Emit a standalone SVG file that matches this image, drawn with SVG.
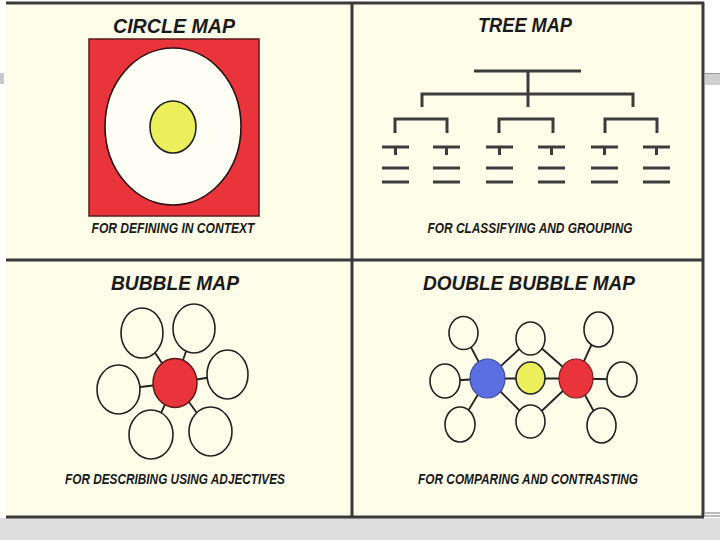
<svg xmlns="http://www.w3.org/2000/svg" width="720" height="540" viewBox="0 0 720 540">
<style>
.title{font-family:"Liberation Sans",Arial,sans-serif;font-weight:bold;font-style:italic;font-size:21px;fill:#1a1a1a}
.cap{font-family:"Liberation Sans",Arial,sans-serif;font-weight:bold;font-style:italic;font-size:14px;fill:#1a1a1a}
.frame{stroke:#3a3a3a;stroke-width:3;fill:none}
.tree{stroke:#3c3c3c;stroke-width:3;fill:none}
.bub{fill:#fdfde9;stroke:#222;stroke-width:1.6}
.link{stroke:#222;stroke-width:1.8;fill:none}
</style>
<rect x="0" y="0" width="720" height="540" fill="#ffffff"/>
<rect x="0" y="518" width="720" height="22" fill="#dedede"/>
<rect x="0" y="73" width="4" height="11" fill="#c8c8c8"/>
<rect x="705" y="73" width="15" height="12" fill="#cfcfcf"/>
<line x1="705" y1="73.5" x2="720" y2="73.5" stroke="#999" stroke-width="1"/>
<line x1="705" y1="513" x2="720" y2="513" stroke="#777" stroke-width="1"/>
<line x1="705" y1="516" x2="720" y2="516" stroke="#777" stroke-width="1"/>
<rect x="6" y="2" width="698" height="516" fill="#fdfde9"/>
<g id="frame">
<line class="frame" x1="6" y1="3" x2="704" y2="3" stroke="#555"/>
<line class="frame" x1="703" y1="2" x2="703" y2="517"/>
<line class="frame" x1="6" y1="517" x2="704" y2="517"/>
<line class="frame" x1="6" y1="260" x2="704" y2="260"/>
<line class="frame" x1="352" y1="2" x2="352" y2="517"/>
</g>

<g id="circle-map">
<text class="title" x="174" y="33" text-anchor="middle" textLength="122" lengthAdjust="spacingAndGlyphs">CIRCLE MAP</text>
<rect x="89" y="39" width="170" height="177" fill="#e8343a" stroke="#5a1a1a" stroke-width="1.5"/>
<ellipse cx="173" cy="126.5" rx="68" ry="78.5" fill="#fefef4" stroke="#2a1010" stroke-width="1.6"/>
<ellipse cx="173" cy="127" rx="23" ry="26" fill="#ecef5c" stroke="#222" stroke-width="1.6"/>
<text class="cap" x="173" y="233" text-anchor="middle" textLength="163" lengthAdjust="spacingAndGlyphs">FOR DEFINING IN CONTEXT</text>
</g>

<g id="tree-map">
<text class="title" x="525" y="32" text-anchor="middle" textLength="94" lengthAdjust="spacingAndGlyphs">TREE MAP</text>
<path class="tree" d="M474 71H581M528 71V107M422 107V94H633V107"/>
<path class="tree" d="M395 133V119H447V133M499 133V119H553V133M605 133V119H657V133"/>
<g id="tree-leaves" class="tree">
<path d="M382 147H409M395.5 147V155M382 168H409M382 182H409"/>
<path d="M433 147H460M446.5 147V155M433 168H460M433 182H460"/>
<path d="M486 147H513M499.5 147V155M486 168H513M486 182H513"/>
<path d="M538 147H565M551.5 147V155M538 168H565M538 182H565"/>
<path d="M591 147H618M604.5 147V155M591 168H618M591 182H618"/>
<path d="M643 147H670M656.5 147V155M643 168H670M643 182H670"/>
</g>
<text class="cap" x="530" y="233" text-anchor="middle" textLength="205" lengthAdjust="spacingAndGlyphs">FOR CLASSIFYING AND GROUPING</text>
</g>

<g id="bubble-map">
<text class="title" x="175" y="290" text-anchor="middle" textLength="128" lengthAdjust="spacingAndGlyphs">BUBBLE MAP</text>
<g id="bubble-connectors">
<line class="link" x1="175" y1="383" x2="142" y2="333"/>
<line class="link" x1="175" y1="383" x2="194" y2="328.5"/>
<line class="link" x1="175" y1="383" x2="227.5" y2="374.5"/>
<line class="link" x1="175" y1="383" x2="118.5" y2="389.5"/>
<line class="link" x1="175" y1="383" x2="151" y2="434.5"/>
<line class="link" x1="175" y1="383" x2="210.5" y2="431.5"/>
</g>
<g id="b1"><ellipse class="bub" cx="142" cy="333" rx="21" ry="25"/></g>
<g id="b2"><ellipse class="bub" cx="194" cy="328.5" rx="21" ry="24.5"/></g>
<g id="b3"><ellipse class="bub" cx="227.5" cy="374.5" rx="20.5" ry="24.5"/></g>
<g id="b4"><ellipse class="bub" cx="118.5" cy="389.5" rx="21.5" ry="24.5"/></g>
<g id="b5"><ellipse class="bub" cx="151" cy="434.5" rx="22" ry="24.5"/></g>
<g id="b6"><ellipse class="bub" cx="210.5" cy="431.5" rx="21.5" ry="24.5"/></g>
<g id="b-center"><ellipse cx="175" cy="383" rx="22" ry="24.5" fill="#e8343a" stroke="#5a1a1a" stroke-width="1.5"/></g>
<text class="cap" x="175" y="484" text-anchor="middle" textLength="220" lengthAdjust="spacingAndGlyphs">FOR DESCRIBING USING ADJECTIVES</text>
</g>

<g id="double-bubble-map">
<text class="title" x="529" y="290" text-anchor="middle" textLength="212" lengthAdjust="spacingAndGlyphs">DOUBLE BUBBLE MAP</text>
<g id="double-connectors">
<line class="link" x1="487.5" y1="378.5" x2="445" y2="381"/>
<line class="link" x1="487.5" y1="378.5" x2="463.5" y2="333"/>
<line class="link" x1="487.5" y1="378.5" x2="460" y2="424.5"/>
<line class="link" x1="487.5" y1="378.5" x2="530.5" y2="338.5"/>
<line class="link" x1="487.5" y1="378.5" x2="530.5" y2="421.5"/>
<line class="link" x1="487.5" y1="378.5" x2="576" y2="378.5"/>
<line class="link" x1="576" y1="378.5" x2="530.5" y2="338.5"/>
<line class="link" x1="576" y1="378.5" x2="530.5" y2="421.5"/>
<line class="link" x1="576" y1="378.5" x2="598.5" y2="329.5"/>
<line class="link" x1="576" y1="378.5" x2="622" y2="379.5"/>
<line class="link" x1="576" y1="378.5" x2="601.5" y2="425.5"/>
</g>
<g id="d-tl"><ellipse class="bub" cx="463.5" cy="333" rx="14.5" ry="16.5"/></g>
<g id="d-l"><ellipse class="bub" cx="445" cy="381" rx="15" ry="17"/></g>
<g id="d-bl"><ellipse class="bub" cx="460" cy="424.5" rx="15" ry="17.5"/></g>
<g id="d-tm"><ellipse class="bub" cx="530.5" cy="338.5" rx="14.5" ry="16.5"/></g>
<g id="d-bm"><ellipse class="bub" cx="530.5" cy="421.5" rx="14.5" ry="16.5"/></g>
<g id="d-tr"><ellipse class="bub" cx="598.5" cy="329.5" rx="14.5" ry="17.5"/></g>
<g id="d-r"><ellipse class="bub" cx="622" cy="379.5" rx="15" ry="17.5"/></g>
<g id="d-br"><ellipse class="bub" cx="601.5" cy="425.5" rx="14.5" ry="17.5"/></g>
<g id="d-blue"><ellipse cx="487.5" cy="378.5" rx="17.5" ry="19.5" fill="#5b6fe2" stroke="#3a4a9a" stroke-width="1.2"/></g>
<g id="d-yellow"><ellipse cx="530.5" cy="378" rx="14.5" ry="16" fill="#ecef5c" stroke="#222" stroke-width="1.6"/></g>
<g id="d-red"><ellipse cx="576" cy="378.5" rx="17" ry="19.5" fill="#e8343a" stroke="#7a1a1a" stroke-width="1.2"/></g>
<text class="cap" x="528" y="484" text-anchor="middle" textLength="220" lengthAdjust="spacingAndGlyphs">FOR COMPARING AND CONTRASTING</text>
</g>
</svg>
